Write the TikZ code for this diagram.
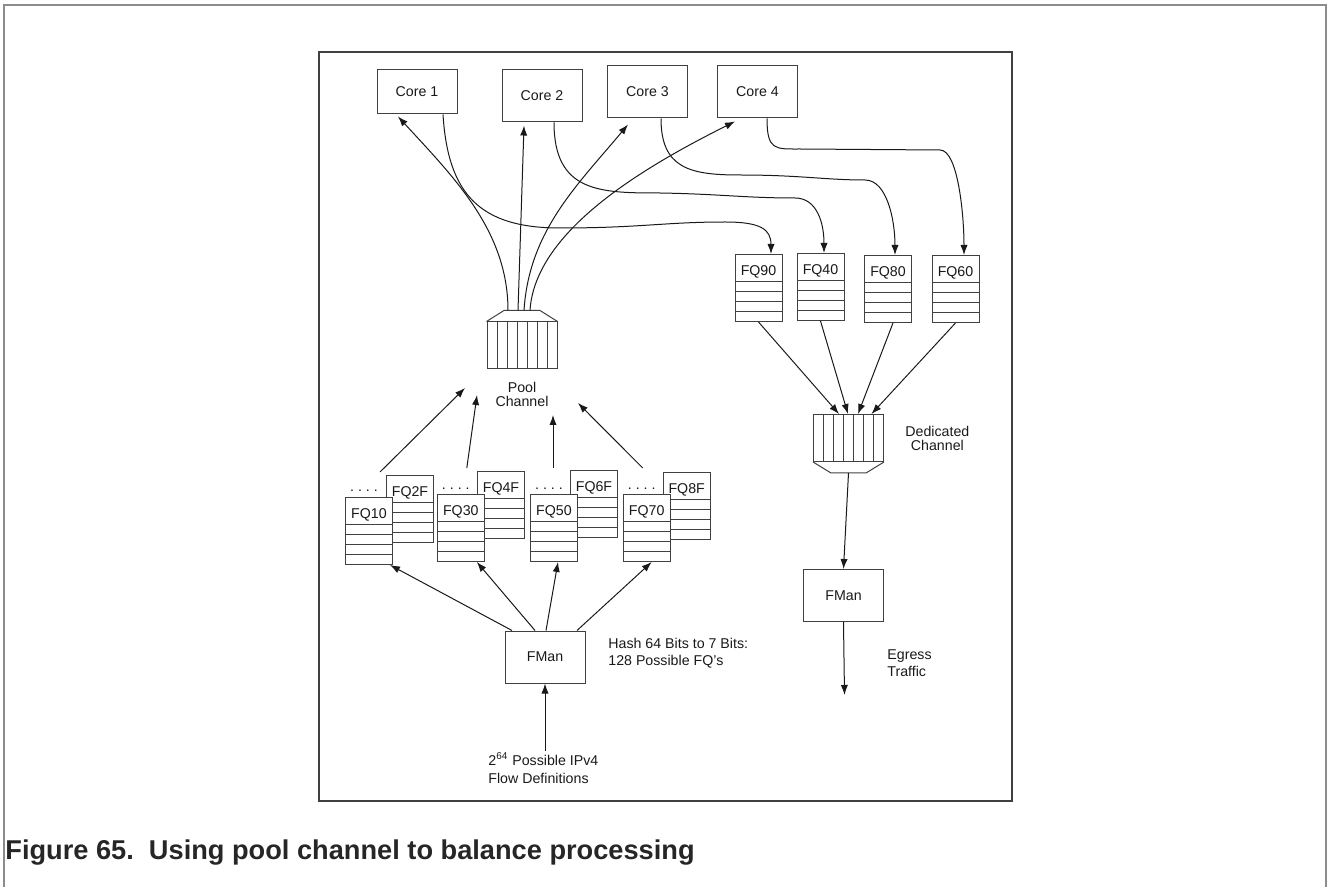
\documentclass[tikz,border=0pt]{standalone}
\usepackage{fontspec}
\setmainfont{Liberation Sans}
\usetikzlibrary{arrows.meta,positioning,calc}
\tikzset{
  core/.style={draw=black!75, line width=0.5pt, minimum width=40pt, minimum height=26pt, inner sep=0pt},
  fq/.style={draw=black!75, fill=white, line width=0.5pt, inner sep=0pt, minimum width=23.5pt,
    text height=10.5pt, text depth=23pt,
    path picture={\foreach \k in {0,...,3}
      \draw[line width=0.5pt, black!75] ([yshift={-(13.5+5*\k)*1pt}]path picture bounding box.north west)
        -- ([yshift={-(13.5+5*\k)*1pt}]path picture bounding box.north east);}},
  chan/.style={draw=black!75, line width=0.5pt, inner sep=0pt, minimum width=35pt, minimum height=23.5pt,
    path picture={\foreach \k in {1,...,6}
      \draw[line width=0.45pt, black!75] ([xshift=\k*5pt]path picture bounding box.south west)
        -- ([xshift=\k*5pt]path picture bounding box.north west);}},
  chanlbl/.style={align=center, inner sep=0pt, font=\fontsize{7.1}{7}\selectfont},
  dots/.style={inner sep=0pt, anchor=base},
  note/.style={align=left, inner sep=0pt},
  arr/.style={-{Latex[length=5pt,width=3.6pt]}, line width=0.5pt, black!90},
  link/.style={line width=0.5pt, black!75}
}
\begin{document}
\begin{tikzpicture}[x=0.5pt, y=-0.5pt,
  every node/.style={font=\fontsize{7.1}{8.6}\selectfont, text=black!90}]
\useasboundingbox (0,0) rectangle (1328,887);

% frames
\draw[black!45, line width=0.8pt] (4,887) -- (4,5) -- (1326,5) -- (1326,887);
\draw[black!75, line width=0.7pt] (319,52) rectangle (1012,801);

% cores
\node[core, minimum height=22pt] (core1) at (417,92) {Core 1};
\node[core] (core2) at (542,96) {Core 2};
\node[core] (core3) at (647.5,92) {Core 3};
\node[core] (core4) at (757.5,92) {Core 4};

% dedicated frame queues
\foreach \n/\x/\y in {90/758.5/254, 40/820.5/253, 80/888/255, 60/955.5/255}
  \node[fq, anchor=north] (fq\n) at (\x,\y) {FQ\n};

% pool frame queues
\foreach \back/\front/\bx/\by/\fx/\fy in {2F/10/410/475/369/497, 4F/30/501/471/460.8/494,
    6F/50/594/470/554/494, 8F/70/686.7/472/646.7/494} {
  \node[fq, anchor=north] (fq\back) at (\bx,\by) {FQ\back};
  \node[fq, anchor=north] (fq\front) at (\fx,\fy) {FQ\front};
  \node[dots] (dots\front) at ($(fq\front.north)+(-5,-5)$) {.\ .\ .\ .};
}

% channels
\node[chan] (pool) at (522,345.5) {};
\draw[link] (pool.north west) -- ($(pool.north)+(-18,-11)$) -- ($(pool.north)+(18,-11)$) -- (pool.north east);
\node[chanlbl, below=6pt of pool] (poollbl) {Pool\\Channel};

\node[chan] (ded) at (848.5,438) {};
\draw[link] (ded.south west) -- ($(ded.south)+(-17.5,11)$) -- ($(ded.south)+(17.5,11)$) -- (ded.south east);
\coordinate (dedout) at ($(ded.south)+(0,11)$);
\node[chanlbl, right=10.5pt of ded] (dedlbl) {Dedicated\\Channel};

% frame managers
\node[core] (fman1) at (545,657) {FMan};
\node[core] (fman2) at (843.5,595.5) {FMan};

\node[note, anchor=west] (hash) at (608,653) {Hash 64 Bits to 7 Bits:\\128 Possible FQ's};
\node[note, anchor=west] (flow) at (488,768) {2\textsuperscript{64} Possible IPv4\\Flow Definitions};
\node[note, anchor=west] (egress) at (887,663) {Egress\\Traffic};

% pool channel to cores
\coordinate (p1) at ($(pool.north)+(-14,-11)$);
\coordinate (p2) at ($(pool.north)+(-4,-11)$);
\coordinate (p3) at ($(pool.north)+(2,-11)$);
\coordinate (p4) at ($(pool.north)+(8,-11)$);
\draw[arr] (p1) .. controls +(0,-80) and +(55,60) .. ([xshift=-9.5pt,yshift=-1pt]core1.south);
\draw[arr] (p2) -- ([xshift=-9pt,yshift=-1.5pt]core2.south);
\draw[arr] (p3) .. controls +(5,-80) and +(-50,60) .. ([xshift=-9.75pt,yshift=-3pt]core3.south);
\draw[arr] (p4) .. controls +(5,-80) and +(-90,45) .. ([xshift=-11.25pt,yshift=-1.5pt]core4.south);

% cores to dedicated queues
\draw[arr] ([xshift=13pt]core1.south) .. controls +(5,80) and +(-80,0) .. (560,228)
  .. controls +(80,0) and +(-60,0) .. (725,222) .. controls +(35,0) and +(0,-25) .. ([xshift=6.25pt]fq90.north);
\draw[arr] ([xshift=6pt]core2.south) .. controls +(0,70) and +(-60,0) .. (660,193)
  .. controls +(60,1) and +(-50,0) .. (795,198) .. controls +(22,0) and +(0,-30) .. ([xshift=1.75pt]fq40.north);
\draw[arr] ([xshift=6.75pt]core3.south) .. controls +(0,50) and +(-50,0) .. (740,175)
  .. controls +(60,0) and +(-40,0) .. (865,180) .. controls +(22,0) and +(0,-35) .. ([xshift=3.5pt]fq80.north);
\draw[arr] ([xshift=4.75pt]core4.south) .. controls +(0,32) and +(-25,0) .. (800,149)
  -- (940,150) .. controls +(18,0) and +(0,-40) .. ([xshift=4.25pt]fq60.north);

% dedicated queues to channel
\draw[arr] (fq90.south) -- ([xshift=-4.75pt]ded.north);
\draw[arr] (fq40.south) -- ([xshift=-0.25pt]ded.north);
\draw[arr] ([xshift=2.5pt]fq80.south) -- ([xshift=4.75pt]ded.north);
\draw[arr] (fq60.south) -- ([xshift=11.5pt]ded.north);
\draw[arr] (dedout) -- (fman2.north);
\coordinate (egressend) at ($(fman2.south)+(1,73)$);
\draw[arr] (fman2.south) -- (egressend);

% pool queues to pool channel
\coordinate (a1s) at ($(fq10.north)+(11,-25)$);
\coordinate (a2s) at ($(fq30.north)+(6,-26)$);
\coordinate (a3s) at ($(fq50.north)+(-1,-26)$);
\coordinate (a4s) at ($(fq70.north)+(-4,-26)$);
\coordinate (a1e) at (465,388);
\coordinate (a2e) at (477,395);
\coordinate (a3e) at (553,415);
\coordinate (a4e) at (578,403);
\foreach \i in {1,...,4}
  \draw[arr] (a\i s) -- (a\i e);

% hashing into pool queues
\draw[arr] ([xshift=-16.5pt]fman1.north) -- ([xshift=10.5pt]fq10.south);
\draw[arr] ([xshift=-5pt]fman1.north) -- ([xshift=8pt]fq30.south);
\draw[arr] ([xshift=0.5pt]fman1.north) -- ([xshift=2pt]fq50.south);
\draw[arr] ([xshift=16pt]fman1.north) -- ([xshift=2.5pt]fq70.south);
\coordinate (flowtop) at ($(fman1.south)+(0,67)$);
\draw[arr] (flowtop) -- (fman1.south);

\node[font=\bfseries\fontsize{13.6}{16}\selectfont, text=black!85, anchor=west, inner sep=0pt] (caption) at (5,853)
  {Figure 65.\ \ Using pool channel to balance processing};
\end{tikzpicture}
\end{document}
